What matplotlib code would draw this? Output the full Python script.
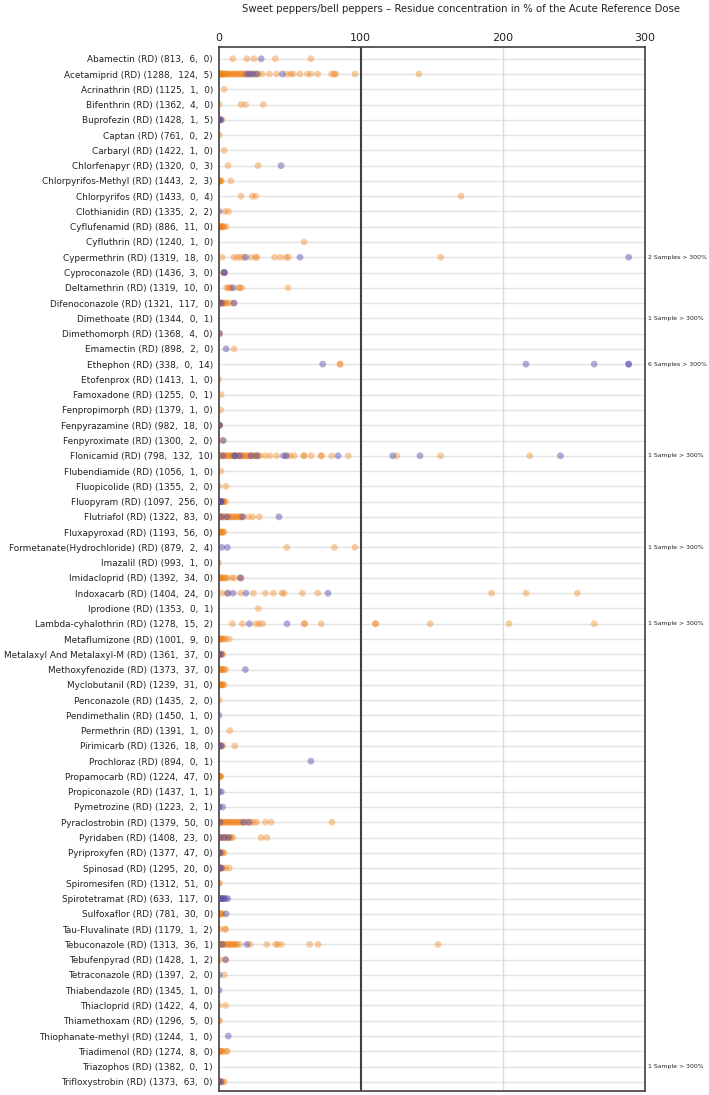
import matplotlib
matplotlib.use('Agg')
import matplotlib.pyplot as plt
import matplotlib.transforms as mtransforms

# Substances and the counts shown in brackets
substances = [
    'Abamectin', 'Acetamiprid', 'Acrinathrin', 'Bifenthrin', 'Buprofezin', 'Captan',
    'Carbaryl', 'Chlorfenapyr', 'Chlorpyrifos-Methyl', 'Chlorpyrifos', 'Clothianidin',
    'Cyflufenamid', 'Cyfluthrin', 'Cypermethrin', 'Cyproconazole', 'Deltamethrin',
    'Difenoconazole', 'Dimethoate', 'Dimethomorph', 'Emamectin', 'Ethephon', 'Etofenprox',
    'Famoxadone', 'Fenpropimorph', 'Fenpyrazamine', 'Fenpyroximate', 'Flonicamid',
    'Flubendiamide', 'Fluopicolide', 'Fluopyram', 'Flutriafol', 'Fluxapyroxad',
    'Formetanate(Hydrochloride)', 'Imazalil', 'Imidacloprid', 'Indoxacarb', 'Iprodione',
    'Lambda-cyhalothrin', 'Metaflumizone', 'Metalaxyl And Metalaxyl-M', 'Methoxyfenozide',
    'Myclobutanil', 'Penconazole', 'Pendimethalin', 'Permethrin', 'Pirimicarb', 'Prochloraz',
    'Propamocarb', 'Propiconazole', 'Pymetrozine', 'Pyraclostrobin', 'Pyridaben',
    'Pyriproxyfen', 'Spinosad', 'Spiromesifen', 'Spirotetramat', 'Sulfoxaflor',
    'Tau-Fluvalinate', 'Tebuconazole', 'Tebufenpyrad', 'Tetraconazole', 'Thiabendazole',
    'Thiacloprid', 'Thiamethoxam', 'Thiophanate-methyl', 'Triadimenol', 'Triazophos',
    'Trifloxystrobin',
]
n_analysed = [813, 1288, 1125, 1362, 1428, 761, 1422, 1320, 1443, 1433, 1335, 886, 1240, 1319,
              1436, 1319, 1321, 1344, 1368, 898, 338, 1413, 1255, 1379, 982, 1300, 798, 1056,
              1355, 1097, 1322, 1193, 879, 993, 1392, 1404, 1353, 1278, 1001, 1361, 1373, 1239,
              1435, 1450, 1391, 1326, 894, 1224, 1437, 1223, 1379, 1408, 1377, 1295, 1312, 633,
              781, 1179, 1313, 1428, 1397, 1345, 1422, 1296, 1244, 1274, 1382, 1373]
n_quantified = [6, 124, 1, 4, 1, 0, 1, 0, 2, 0, 2, 11, 1, 18, 3, 10, 117, 0, 4, 2, 0, 1, 0, 1,
                18, 2, 132, 1, 2, 256, 83, 56, 2, 1, 34, 24, 0, 15, 9, 37, 37, 31, 2, 1, 1, 18,
                0, 47, 1, 2, 50, 23, 47, 20, 51, 117, 30, 1, 36, 1, 2, 1, 4, 5, 1, 8, 0, 63]
n_other = [0, 5, 0, 0, 5, 2, 0, 3, 3, 4, 2, 0, 0, 0, 0, 0, 0, 1, 0, 0, 14, 0, 1, 0, 0, 0, 10,
           0, 0, 0, 0, 0, 4, 0, 0, 0, 1, 2, 0, 0, 0, 0, 0, 0, 0, 0, 1, 0, 1, 1, 0, 0, 0, 0,
           0, 0, 0, 2, 1, 2, 0, 0, 0, 0, 0, 0, 1, 0]

# % of ARfD per sample, orange series
orange_vals = [
    [10, 20, 25, 40, 65],
    [0, 0, 0.5, 1, 1, 1.5, 2, 2, 3, 3, 4, 5, 5, 6, 7, 8, 9, 10, 11, 12, 13, 14, 15, 16, 17, 18,
     19, 21, 23, 25, 26, 28, 30.8, 35.8, 40.9, 48, 50.8, 52.6, 57.3, 62.5, 65, 69.8, 79.6, 81.5,
     82.4, 96, 141],
    [4],
    [0.3, 15.8, 19, 31.5],
    [0, 1, 1.5, 2.5],
    [0.5],
    [4],
    [6.7, 27.8],
    [0, 0.5, 1, 1.5, 2, 8.6],
    [15.8, 23.8, 26.1, 170.6],
    [4.6, 7],
    [0, 0.5, 1, 1.5, 2, 2.5, 3, 4, 5.5],
    [60.2],
    [2.5, 10.7, 13, 15.4, 17.5, 22.9, 26.1, 27, 39.5, 43.5, 47.7, 49.1, 156.3],
    [3.5, 4.5],
    [5.7, 7, 8, 9, 14, 15.1, 16.3, 48.9],
    [0, 0, 0.5, 1, 1.5, 2, 2.5, 3, 4, 5, 6, 8, 10.9],
    [],
    [0.6, 0.6],
    [10.9],
    [85.5, 85.5],
    [0.1],
    [1.8],
    [1.5],
    [0.3, 0.6, 1],
    [2.6],
    [1, 2, 3, 4, 5, 6, 7, 8, 9, 10, 11, 12, 13, 14, 15, 16, 17, 18, 19, 20, 21, 22, 23, 24, 25,
     26, 27, 28, 29, 32.7, 36.2, 40.9, 48, 50.3, 53.3, 60.1, 60.1, 65.1, 72.3, 72.3, 79.6, 91.3,
     125.3, 156.3, 218.9],
    [1.8],
    [0.3, 5.3],
    [0, 0.5, 1, 1.5, 2, 2.5, 3, 3.5, 4, 5],
    [0, 0.5, 1, 1.5, 2, 3, 4, 5, 6, 7, 8, 9, 10, 11, 12, 13, 14, 15, 16, 17, 21, 24, 28.7],
    [0, 0.5, 1, 1.5, 2, 2.5, 3, 4],
    [48, 81.5, 96],
    [0.1],
    [0, 0.5, 1, 1.5, 2, 3, 4, 5, 6, 9.3, 11.1, 15.1, 16],
    [2.2, 6.4, 15.6, 24.5, 33, 38.6, 44.7, 46.1, 59, 69.8, 192.1, 216.3, 252.4],
    [28],
    [9.7, 16.8, 26.4, 28.7, 31.1, 60.4, 60.4, 72.3, 110.5, 110.5, 148.8, 204.3, 264.3],
    [0, 0.5, 1, 1.5, 2, 3, 4, 5, 7.6],
    [0, 0.5, 1, 1.5, 2, 2.5, 3],
    [0, 0.5, 1, 1.5, 2, 2.5, 3, 4, 5],
    [0, 0.5, 1, 1.5, 2, 2.5, 3, 4],
    [0.6],
    [],
    [7.9],
    [0, 0.5, 1, 1.5, 2, 3, 11.4],
    [],
    [0, 0.3, 0.6, 1, 1.3, 1.5],
    [],
    [0.4],
    [0, 0.5, 1, 1.5, 2, 3, 4, 5, 6, 7, 8, 9, 10, 11, 12, 13, 14, 15, 16, 18, 19, 21, 23, 25, 27,
     33, 37, 79.8],
    [0, 0.5, 1, 1.5, 2, 3, 4, 5, 6, 7, 8, 9, 10, 30, 34],
    [0, 0.5, 1, 1.5, 2, 3, 4],
    [0, 0.5, 1, 1.5, 2, 3, 5, 7.5],
    [0.4, 0.4],
    [0, 0.5, 1, 1.5, 2, 3],
    [0, 0.5, 1, 1.5, 2, 3],
    [1, 4.8, 4.8],
    [0, 0.5, 1, 2, 3, 4, 5, 6, 7, 8, 9, 10, 11, 12, 13, 15, 22.2, 33.9, 40.2, 41.6, 44.2, 64.1,
     70, 154.4],
    [1, 5],
    [4.1],
    [],
    [0.4, 5],
    [0.4, 0.4],
    [],
    [0, 0.5, 1, 1.5, 2, 3, 5.3, 6.2],
    [],
    [0, 0.5, 1, 1.5, 2, 3, 4],
]

# % of ARfD per sample, purple series
purple_vals = [
    [30], [20, 22, 24, 27, 45], [], [], [0.5, 1, 1.5], [], [], [44], [], [], [0.4], [], [],
    [19.1, 57.3, 288.5], [3.8, 4.2], [10.2], [0.5, 2, 10.9], [], [0.6], [5.3],
    [73.3, 216.3, 264.3, 288.5, 288.5], [], [], [], [0.4, 0.8], [3.4],
    [3, 11, 12, 15, 23, 27, 45.6, 47.5, 84.1, 122.5, 141.7, 240.5], [], [],
    [0, 0.5, 1, 1.5, 2], [2, 6, 17, 42.5], [], [2.2, 6.2], [], [15.5], [6.4, 10.2, 19.3, 77],
    [], [21.7, 48.2], [], [0.5, 1.5], [18.9], [], [], [0.3], [], [1, 2], [65], [], [0.4, 2],
    [0.4, 2.9], [1, 17.5, 21.5], [1, 4, 7], [0.5, 1], [1, 2], [], [0, 1, 2, 3, 4, 5, 6.5],
    [5.3], [], [2.5, 20], [5], [0.6], [0.4], [], [], [6.9], [], [], [0.5, 1.5],
]

# samples beyond the axis range
over_rows = [13, 17, 20, 26, 32, 37, 66]
over_text = ['2 Samples > 300%', '1 Sample > 300%', '6 Samples > 300%', '1 Sample > 300%',
             '1 Sample > 300%', '1 Sample > 300%', '1 Sample > 300%']

labels = [f'{s} (RD) ({a},  {b},  {c})'
          for s, a, b, c in zip(substances, n_analysed, n_quantified, n_other)]

fig = plt.figure(figsize=(7.09, 10.95), dpi=100)
ax = fig.add_axes([218.5 / 709, 4 / 1095, (645 - 218.5) / 709, (1091 - 47) / 1095])

n = len(substances)
for i in range(n):
    ax.axhline(i, color='#e3e3e3', lw=1.0, zorder=0)
ax.axvline(200, color='#dcdcdc', lw=1.0, zorder=0)
ax.axvline(100, color='#404040', lw=1.5, zorder=1)

for i in range(n):
    if orange_vals[i]:
        ax.scatter(orange_vals[i], [i] * len(orange_vals[i]), s=24, color='#f0841c',
                   alpha=0.4, edgecolors='none', zorder=2)
    if purple_vals[i]:
        ax.scatter(purple_vals[i], [i] * len(purple_vals[i]), s=24, color='#5c50ad',
                   alpha=0.48, edgecolors='none', zorder=3)

trans = mtransforms.blended_transform_factory(ax.transAxes, ax.transData)
for r, t in zip(over_rows, over_text):
    ax.text(1.006, r, t, transform=trans, fontsize=4.4, va='center', ha='left', color='#222222')

ax.set_xlim(0, 300)
ax.set_ylim(n - 0.4, -0.77)
ax.set_xticks([0, 100, 200, 300])
ax.xaxis.tick_top()
ax.tick_params(axis='x', length=0, pad=3, labelsize=8, colors='#222222')
ax.set_yticks(range(n))
ax.set_yticklabels(labels)
ax.tick_params(axis='y', length=0, pad=4, labelsize=6.4, colors='#222222')
for sp in ax.spines.values():
    sp.set_color('#404040')
    sp.set_linewidth(1.2)

fig.text(461 / 709, 1 - 9 / 1095,
         'Sweet peppers/bell peppers \u2013 Residue concentration in % of the Acute Reference Dose',
         ha='center', va='center', fontsize=7.3, color='#222222')

plt.savefig('out.png', dpi=100)
